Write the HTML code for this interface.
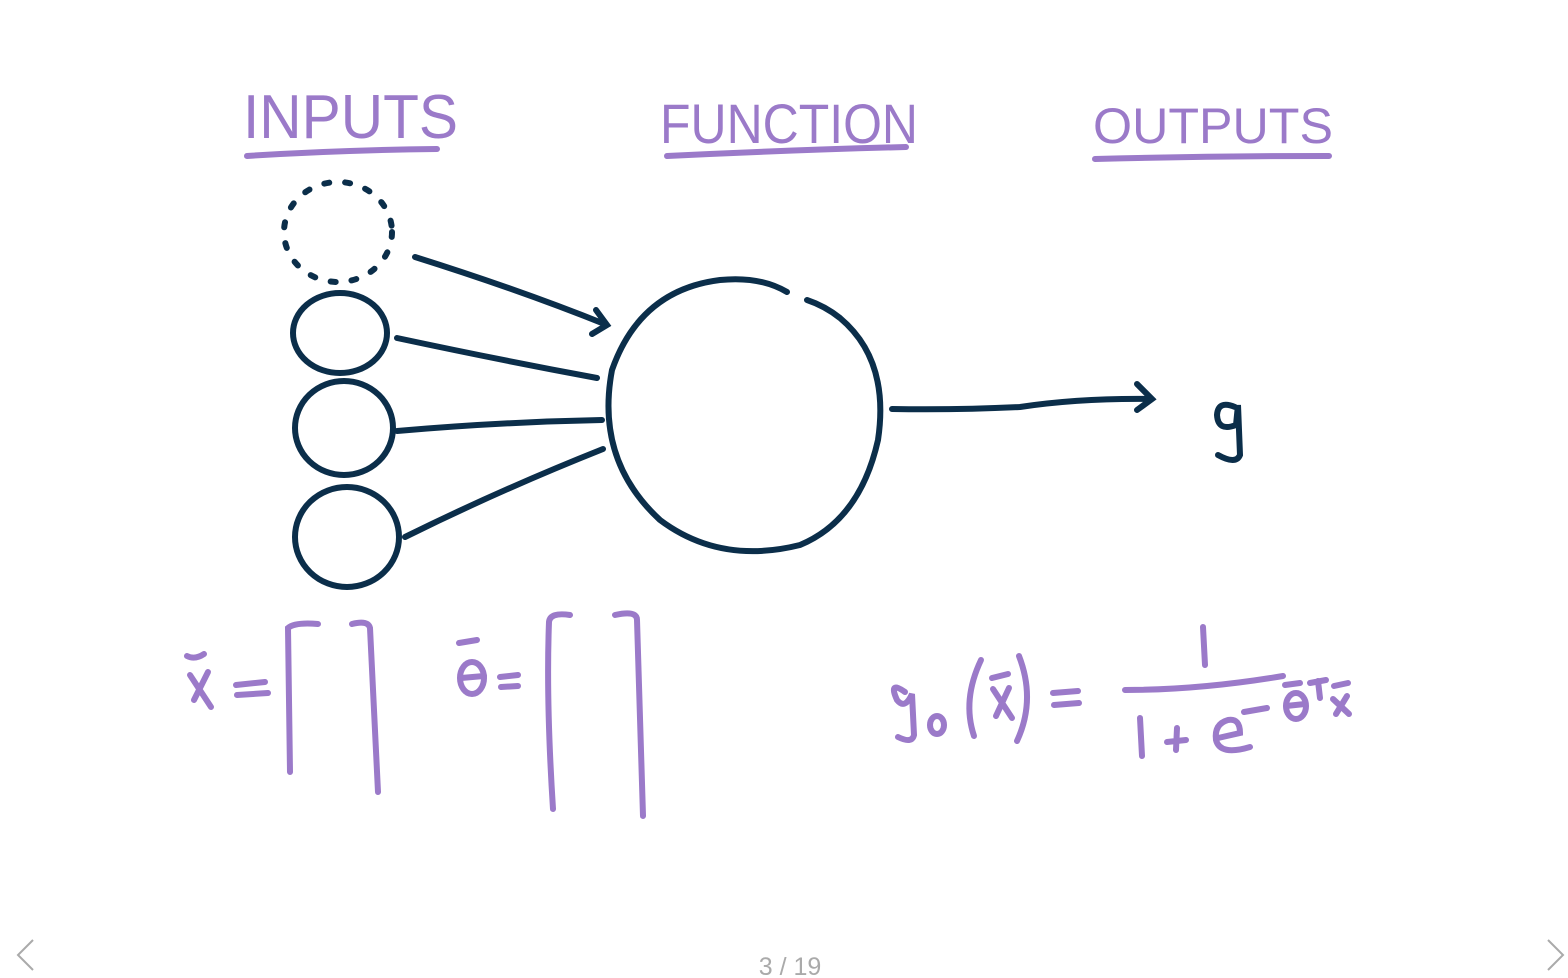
<!DOCTYPE html>
<html><head><meta charset="utf-8"><style>
html,body{margin:0;padding:0;background:#fff;width:1568px;height:978px;overflow:hidden}
svg{display:block}
</style></head><body>
<svg width="1568" height="978" viewBox="0 0 1568 978" xmlns="http://www.w3.org/2000/svg">
<g fill="#9b7ac9" font-family="Liberation Sans, sans-serif">
<text x="243" y="138" font-size="62" textLength="215" lengthAdjust="spacingAndGlyphs">INPUTS</text>
<text x="660" y="143" font-size="56" textLength="258" lengthAdjust="spacingAndGlyphs">FUNCTION</text>
<text x="1093" y="143" font-size="50" textLength="240" lengthAdjust="spacingAndGlyphs">OUTPUTS</text>
</g>
<g stroke="#9b7ac9" stroke-width="6" fill="none" stroke-linecap="round">
<path d="M247 156 Q340 150 437 149"/>
<path d="M667 156 Q790 150 906 147"/>
<path d="M1095 159 Q1210 156 1329 156"/>
<path d="M187 656 Q195 660 204 654"/>
<path d="M190 675 L211 707 M208 672 L194 700"/>
<path d="M236 685 L265 682 M237 695 L268 693"/>
<path d="M318 624 Q295 622 288 628 L290 772"/>
<path d="M352 624 Q368 620 370 628 L378 792"/>
<path d="M459 643 L477 640"/>
<ellipse cx="472" cy="678" rx="12" ry="16"/>
<path d="M461 678 L484 676"/>
<path d="M500 677 L518 675 M501 687 L518 686"/>
<path d="M570 615 Q550 612 549 622 Q546 700 553 809"/>
<path d="M615 615 Q637 610 637 620 L643 816"/>
<path d="M1203 627 L1205 665"/>
<path d="M1125 690 Q1200 690 1283 676"/>
<path d="M1140 718 L1142 756"/>
<path d="M1167 742 L1186 740 M1177 728 L1176 750"/>
<path d="M1218 738 L1240 733 Q1240 718 1228 720 Q1214 724 1216 740 Q1220 756 1250 747"/>
<path d="M1244 712 L1267 708"/>
<ellipse cx="1296" cy="706" rx="10" ry="13"/>
<path d="M1286 706 L1305 704 M1285 685 L1300 683"/>
<path d="M1310 683 L1326 680 M1318 681 L1320 698"/>
<path d="M1334 686 L1348 683 M1333 699 L1349 714 M1347 696 L1336 714"/>
<path d="M905 692 Q888 680 897 700 Q905 710 912 694 L914 735 Q912 744 898 737"/>
<ellipse cx="937" cy="725" rx="7" ry="9"/>
<path d="M981 660 Q962 700 974 736"/>
<path d="M992 678 L1008 674 M993 689 L1012 718 M1009 688 L996 716"/>
<path d="M1019 656 Q1036 700 1017 741"/>
<path d="M1053 693 L1078 691 M1054 705 L1079 703"/>
</g>
<g stroke="#0b2e4a" stroke-width="6" fill="none" stroke-linecap="round">
<ellipse cx="338" cy="232" rx="54" ry="50" stroke-dasharray="5 16"/>
<ellipse cx="340" cy="333" rx="47" ry="40"/>
<ellipse cx="344" cy="428" rx="49" ry="47"/>
<ellipse cx="347" cy="537" rx="52" ry="50"/>
<path d="M787 292 Q760 276 720 280 Q640 290 612 370 Q595 460 660 520 Q720 565 800 545 Q860 520 878 440 Q890 360 840 318 Q825 306 807 300"/>
<path d="M415 257 Q520 290 607 325 M596 310 L607 325 L592 334"/>
<path d="M397 338 Q500 360 597 378"/>
<path d="M397 431 Q500 422 602 420"/>
<path d="M405 537 Q500 490 603 449"/>
<path d="M892 409 Q960 410 1020 407 Q1080 398 1152 399 M1137 384 L1152 399 L1137 410"/>
<path d="M1235 407 Q1218 400 1217 415 Q1218 432 1236 425 L1238 405 L1240 455 Q1236 465 1218 455"/>
</g>
<text x="790" y="975" font-family="Liberation Sans, sans-serif" font-size="25" fill="#aaa" text-anchor="middle">3 / 19</text>
<g stroke="#aaa" stroke-width="2" fill="none">
<path d="M33 940 L18 955 L33 970"/>
<path d="M1548 940 L1563 955 L1548 970"/>
</g>
</svg>
</body></html>
